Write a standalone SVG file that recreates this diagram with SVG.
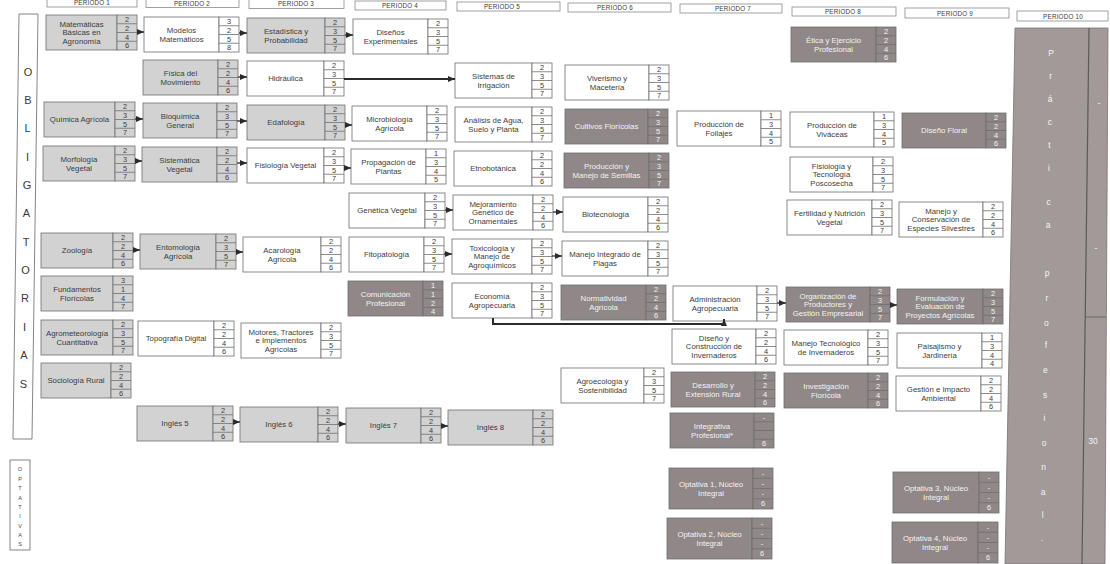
<svg xmlns="http://www.w3.org/2000/svg" width="1110" height="564" viewBox="0 0 1110 564">
<defs>
<style>
text{font-family:"Liberation Sans",Arial,sans-serif}
.lbl{font-size:7.8px;text-anchor:middle;fill:#3c3c3c}
.num{font-size:7.4px;text-anchor:middle;fill:#3c3c3c}
.node rect,.node path{stroke:#6e6e6e;stroke-width:0.8}
.w rect{fill:#ffffff}
.g rect{fill:#d2d2d2}
.d rect{fill:#908888}
.d text{fill:#f3f3f3}
.hdr rect{fill:#fff;stroke:#8a8a8a;stroke-width:0.8}
.hdr text{font-size:6.3px;text-anchor:middle;fill:#3a3a3a;letter-spacing:0.2px}
.side{fill:#fff;stroke:#777;stroke-width:0.9}
.sl{font-size:11px;text-anchor:middle;fill:#3a3a3a}
.ol{font-size:5.5px;text-anchor:middle;fill:#444}
.pl{font-size:8.5px;text-anchor:middle;fill:#f5f5f5}
#connectors path{fill:none;stroke:#2b2b2b;stroke-width:1.3;marker-end:url(#ah)}
</style>
<marker id="ah" markerUnits="userSpaceOnUse" markerWidth="7" markerHeight="6" refX="7" refY="3" orient="auto"><path d="M0,0L7,3L0,6z" fill="#2b2b2b"/></marker>
</defs>
<rect width="1110" height="564" fill="#fff"/>

<g id="headers" class="hdr">
<rect x="47" y="-2" width="90" height="9"/><text x="92" y="5.3">PERIODO 1</text>
<rect x="146" y="-2" width="93" height="9.5"/><text x="192" y="5.6">PERIODO 2</text>
<rect x="249" y="-1" width="95" height="9.5"/><text x="296" y="6.4">PERIODO 3</text>
<rect x="355" y="1" width="91" height="9"/><text x="400" y="7.8">PERIODO 4</text>
<rect x="457" y="2" width="103" height="9"/><text x="502" y="8.8">PERIODO 5</text>
<rect x="568" y="3" width="103" height="9"/><text x="615" y="9.8">PERIODO 6</text>
<rect x="680" y="4" width="102" height="9"/><text x="733" y="10.8">PERIODO 7</text>
<rect x="792" y="7" width="104" height="9"/><text x="843" y="13.8">PERIODO 8</text>
<rect x="905" y="8" width="104" height="10"/><text x="955" y="15.5">PERIODO 9</text>
<rect x="1017" y="11" width="91" height="10"/><text x="1063" y="18.5">PERIODO 10</text>
</g>

<g id="obligatorias">
<polygon class="side" points="19,14 38,14 32,439 13,439"/>
<text class="sl" x="28" y="76">O</text>
<text class="sl" x="28" y="104">B</text>
<text class="sl" x="27.5" y="132">L</text>
<text class="sl" x="27.5" y="161">I</text>
<text class="sl" x="27" y="189">G</text>
<text class="sl" x="26.5" y="217">A</text>
<text class="sl" x="26" y="246">T</text>
<text class="sl" x="25.5" y="274">O</text>
<text class="sl" x="25" y="302">R</text>
<text class="sl" x="24.5" y="331">I</text>
<text class="sl" x="24" y="359">A</text>
<text class="sl" x="23.5" y="388">S</text>
</g>

<g id="optativas">
<rect class="side" x="10" y="460" width="20" height="90"/>
<text class="ol" x="20" y="471">O</text>
<text class="ol" x="20" y="480.5">P</text>
<text class="ol" x="20" y="490">T</text>
<text class="ol" x="20" y="499.5">A</text>
<text class="ol" x="20" y="509">T</text>
<text class="ol" x="20" y="518">I</text>
<text class="ol" x="20" y="527.5">V</text>
<text class="ol" x="20" y="537">A</text>
<text class="ol" x="20" y="546">S</text>
</g>

<g id="mat" class="node g" transform="translate(46,15)"><rect width="71" height="35"/><rect x="71" width="20" height="35"/><path d="M71,8.75h20M71,17.5h20M71,26.25h20"/><text class="lbl"><tspan x="35.5" y="11.7">Matemáticas</tspan><tspan x="35.5" y="20.2">Básicas en</tspan><tspan x="35.5" y="28.7">Agronomía</tspan></text><text class="num"><tspan x="81" y="7">2</tspan><tspan x="81" y="15.7">2</tspan><tspan x="81" y="24.5">4</tspan><tspan x="81" y="33.2">6</tspan></text></g>
<g id="mod" class="node w" transform="translate(144,17)"><rect width="75" height="35"/><rect x="75" width="20" height="35"/><path d="M75,8.75h20M75,17.5h20M75,26.25h20"/><text class="lbl"><tspan x="37.5" y="16">Modelos</tspan><tspan x="37.5" y="24.5">Matemáticos</tspan></text><text class="num"><tspan x="85" y="7">3</tspan><tspan x="85" y="15.7">2</tspan><tspan x="85" y="24.5">5</tspan><tspan x="85" y="33.2">8</tspan></text></g>
<g id="est" class="node g" transform="translate(247,18)"><rect width="78" height="35"/><rect x="78" width="20" height="35"/><path d="M78,8.75h20M78,17.5h20M78,26.25h20"/><text class="lbl"><tspan x="39" y="16">Estadística y</tspan><tspan x="39" y="24.5">Probabilidad</tspan></text><text class="num"><tspan x="88" y="7">2</tspan><tspan x="88" y="15.7">3</tspan><tspan x="88" y="24.5">5</tspan><tspan x="88" y="33.2">7</tspan></text></g>
<g id="dis" class="node w" transform="translate(353,19)"><rect width="75" height="35"/><rect x="75" width="20" height="35"/><path d="M75,8.75h20M75,17.5h20M75,26.25h20"/><text class="lbl"><tspan x="37.5" y="16">Diseños</tspan><tspan x="37.5" y="24.5">Experimentales</tspan></text><text class="num"><tspan x="85" y="7">2</tspan><tspan x="85" y="15.7">3</tspan><tspan x="85" y="24.5">5</tspan><tspan x="85" y="33.2">7</tspan></text></g>
<g id="eti" class="node d" transform="translate(791,27)"><rect width="85" height="35"/><rect x="85" width="20" height="35"/><path d="M85,8.75h20M85,17.5h20M85,26.25h20"/><text class="lbl"><tspan x="42.5" y="16">Ética y Ejercicio</tspan><tspan x="42.5" y="24.5">Profesional</tspan></text><text class="num"><tspan x="95" y="7">2</tspan><tspan x="95" y="15.7">2</tspan><tspan x="95" y="24.5">4</tspan><tspan x="95" y="33.2">6</tspan></text></g>

<g id="fis" class="node g" transform="translate(143,60)"><rect width="75" height="35"/><rect x="75" width="20" height="35"/><path d="M75,8.75h20M75,17.5h20M75,26.25h20"/><text class="lbl"><tspan x="37.5" y="16">Física del</tspan><tspan x="37.5" y="24.5">Movimiento</tspan></text><text class="num"><tspan x="85" y="7">2</tspan><tspan x="85" y="15.7">2</tspan><tspan x="85" y="24.5">4</tspan><tspan x="85" y="33.2">6</tspan></text></g>
<g id="hid" class="node w" transform="translate(247,61)"><rect width="77" height="35"/><rect x="77" width="20" height="35"/><path d="M77,8.75h20M77,17.5h20M77,26.25h20"/><text class="lbl"><tspan x="38.5" y="20.2">Hidráulica</tspan></text><text class="num"><tspan x="87" y="7">2</tspan><tspan x="87" y="15.7">3</tspan><tspan x="87" y="24.5">5</tspan><tspan x="87" y="33.2">7</tspan></text></g>
<g id="sir" class="node w" transform="translate(455,63)"><rect width="77" height="35"/><rect x="77" width="20" height="35"/><path d="M77,8.75h20M77,17.5h20M77,26.25h20"/><text class="lbl"><tspan x="38.5" y="16">Sistemas de</tspan><tspan x="38.5" y="24.5">Irrigación</tspan></text><text class="num"><tspan x="87" y="7">2</tspan><tspan x="87" y="15.7">3</tspan><tspan x="87" y="24.5">5</tspan><tspan x="87" y="33.2">7</tspan></text></g>
<g id="viv" class="node w" transform="translate(565,65)"><rect width="84" height="35"/><rect x="84" width="20" height="35"/><path d="M84,8.75h20M84,17.5h20M84,26.25h20"/><text class="lbl"><tspan x="42" y="16">Viverismo y</tspan><tspan x="42" y="24.5">Macetería</tspan></text><text class="num"><tspan x="94" y="7">2</tspan><tspan x="94" y="15.7">3</tspan><tspan x="94" y="24.5">5</tspan><tspan x="94" y="33.2">7</tspan></text></g>

<g id="qui" class="node g" transform="translate(44,102)"><rect width="71" height="35"/><rect x="71" width="20" height="35"/><path d="M71,8.75h20M71,17.5h20M71,26.25h20"/><text class="lbl"><tspan x="35.5" y="20.2">Química Agrícola</tspan></text><text class="num"><tspan x="81" y="7">2</tspan><tspan x="81" y="15.7">3</tspan><tspan x="81" y="24.5">5</tspan><tspan x="81" y="33.2">7</tspan></text></g>
<g id="bio" class="node g" transform="translate(143,103)"><rect width="74" height="35"/><rect x="74" width="20" height="35"/><path d="M74,8.75h20M74,17.5h20M74,26.25h20"/><text class="lbl"><tspan x="37" y="16">Bioquímica</tspan><tspan x="37" y="24.5">General</tspan></text><text class="num"><tspan x="84" y="7">2</tspan><tspan x="84" y="15.7">3</tspan><tspan x="84" y="24.5">5</tspan><tspan x="84" y="33.2">7</tspan></text></g>
<g id="eda" class="node g" transform="translate(247,105)"><rect width="78" height="35"/><rect x="78" width="20" height="35"/><path d="M78,8.75h20M78,17.5h20M78,26.25h20"/><text class="lbl"><tspan x="39" y="20.2">Edafología</tspan></text><text class="num"><tspan x="88" y="7">2</tspan><tspan x="88" y="15.7">3</tspan><tspan x="88" y="24.5">5</tspan><tspan x="88" y="33.2">7</tspan></text></g>
<g id="mic" class="node w" transform="translate(352,106)"><rect width="75" height="35"/><rect x="75" width="20" height="35"/><path d="M75,8.75h20M75,17.5h20M75,26.25h20"/><text class="lbl"><tspan x="37.5" y="16">Microbiología</tspan><tspan x="37.5" y="24.5">Agrícola</tspan></text><text class="num"><tspan x="85" y="7">2</tspan><tspan x="85" y="15.7">3</tspan><tspan x="85" y="24.5">5</tspan><tspan x="85" y="33.2">7</tspan></text></g>
<g id="ana" class="node w" transform="translate(455,107)"><rect width="77" height="35"/><rect x="77" width="20" height="35"/><path d="M77,8.75h20M77,17.5h20M77,26.25h20"/><text class="lbl"><tspan x="38.5" y="16">Análisis de Agua,</tspan><tspan x="38.5" y="24.5">Suelo y Planta</tspan></text><text class="num"><tspan x="87" y="7">2</tspan><tspan x="87" y="15.7">3</tspan><tspan x="87" y="24.5">5</tspan><tspan x="87" y="33.2">7</tspan></text></g>
<g id="cul" class="node d" transform="translate(565,109)"><rect width="83" height="35"/><rect x="83" width="20" height="35"/><path d="M83,8.75h20M83,17.5h20M83,26.25h20"/><text class="lbl"><tspan x="41.5" y="20.2">Cultivos Florícolas</tspan></text><text class="num"><tspan x="93" y="7">2</tspan><tspan x="93" y="15.7">3</tspan><tspan x="93" y="24.5">5</tspan><tspan x="93" y="33.2">7</tspan></text></g>
<g id="fol" class="node w" transform="translate(677,111)"><rect width="84" height="35"/><rect x="84" width="20" height="35"/><path d="M84,8.75h20M84,17.5h20M84,26.25h20"/><text class="lbl"><tspan x="42" y="16">Producción de</tspan><tspan x="42" y="24.5">Follajes</tspan></text><text class="num"><tspan x="94" y="7">1</tspan><tspan x="94" y="15.7">3</tspan><tspan x="94" y="24.5">4</tspan><tspan x="94" y="33.2">5</tspan></text></g>
<g id="vvc" class="node w" transform="translate(790,112)"><rect width="84" height="35"/><rect x="84" width="20" height="35"/><path d="M84,8.75h20M84,17.5h20M84,26.25h20"/><text class="lbl"><tspan x="42" y="16">Producción de</tspan><tspan x="42" y="24.5">Viváceas</tspan></text><text class="num"><tspan x="94" y="7">1</tspan><tspan x="94" y="15.7">3</tspan><tspan x="94" y="24.5">4</tspan><tspan x="94" y="33.2">5</tspan></text></g>
<g id="dfl" class="node d" transform="translate(902,113)"><rect width="84" height="35"/><rect x="84" width="20" height="35"/><path d="M84,8.75h20M84,17.5h20M84,26.25h20"/><text class="lbl"><tspan x="42" y="20.2">Diseño Floral</tspan></text><text class="num"><tspan x="94" y="7">2</tspan><tspan x="94" y="15.7">2</tspan><tspan x="94" y="24.5">4</tspan><tspan x="94" y="33.2">6</tspan></text></g>

<g id="mor" class="node g" transform="translate(43,146)"><rect width="72" height="35"/><rect x="72" width="20" height="35"/><path d="M72,8.75h20M72,17.5h20M72,26.25h20"/><text class="lbl"><tspan x="36" y="16">Morfología</tspan><tspan x="36" y="24.5">Vegetal</tspan></text><text class="num"><tspan x="82" y="7">2</tspan><tspan x="82" y="15.7">3</tspan><tspan x="82" y="24.5">5</tspan><tspan x="82" y="33.2">7</tspan></text></g>
<g id="sis" class="node g" transform="translate(142,147)"><rect width="75" height="35"/><rect x="75" width="20" height="35"/><path d="M75,8.75h20M75,17.5h20M75,26.25h20"/><text class="lbl"><tspan x="37.5" y="16">Sistemática</tspan><tspan x="37.5" y="24.5">Vegetal</tspan></text><text class="num"><tspan x="85" y="7">2</tspan><tspan x="85" y="15.7">2</tspan><tspan x="85" y="24.5">4</tspan><tspan x="85" y="33.2">6</tspan></text></g>
<g id="fve" class="node w" transform="translate(247,148)"><rect width="77" height="35"/><rect x="77" width="20" height="35"/><path d="M77,8.75h20M77,17.5h20M77,26.25h20"/><text class="lbl"><tspan x="38.5" y="20.2">Fisiología Vegetal</tspan></text><text class="num"><tspan x="87" y="7">2</tspan><tspan x="87" y="15.7">3</tspan><tspan x="87" y="24.5">5</tspan><tspan x="87" y="33.2">7</tspan></text></g>
<g id="pro" class="node w" transform="translate(351,149)"><rect width="75" height="35"/><rect x="75" width="20" height="35"/><path d="M75,8.75h20M75,17.5h20M75,26.25h20"/><text class="lbl"><tspan x="37.5" y="16">Propagación de</tspan><tspan x="37.5" y="24.5">Plantas</tspan></text><text class="num"><tspan x="85" y="7">1</tspan><tspan x="85" y="15.7">3</tspan><tspan x="85" y="24.5">4</tspan><tspan x="85" y="33.2">5</tspan></text></g>
<g id="etn" class="node w" transform="translate(454,151)"><rect width="78" height="35"/><rect x="78" width="20" height="35"/><path d="M78,8.75h20M78,17.5h20M78,26.25h20"/><text class="lbl"><tspan x="39" y="20.2">Etnobotánica</tspan></text><text class="num"><tspan x="88" y="7">2</tspan><tspan x="88" y="15.7">2</tspan><tspan x="88" y="24.5">4</tspan><tspan x="88" y="33.2">6</tspan></text></g>
<g id="sem" class="node d" transform="translate(564,153)"><rect width="85" height="35"/><rect x="85" width="20" height="35"/><path d="M85,8.75h20M85,17.5h20M85,26.25h20"/><text class="lbl"><tspan x="42.5" y="16">Producción y</tspan><tspan x="42.5" y="24.5">Manejo de Semillas</tspan></text><text class="num"><tspan x="95" y="7">2</tspan><tspan x="95" y="15.7">3</tspan><tspan x="95" y="24.5">5</tspan><tspan x="95" y="33.2">7</tspan></text></g>
<g id="pos" class="node w" transform="translate(790,157)"><rect width="83" height="35"/><rect x="83" width="20" height="35"/><path d="M83,8.75h20M83,17.5h20M83,26.25h20"/><text class="lbl"><tspan x="41.5" y="11.7">Fisiología y</tspan><tspan x="41.5" y="20.2">Tecnología</tspan><tspan x="41.5" y="28.7">Poscosecha</tspan></text><text class="num"><tspan x="93" y="7">2</tspan><tspan x="93" y="15.7">3</tspan><tspan x="93" y="24.5">5</tspan><tspan x="93" y="33.2">7</tspan></text></g>

<g id="gen" class="node w" transform="translate(349,193)"><rect width="76" height="35"/><rect x="76" width="20" height="35"/><path d="M76,8.75h20M76,17.5h20M76,26.25h20"/><text class="lbl"><tspan x="38" y="20.2">Genética Vegetal</tspan></text><text class="num"><tspan x="86" y="7">2</tspan><tspan x="86" y="15.7">3</tspan><tspan x="86" y="24.5">5</tspan><tspan x="86" y="33.2">7</tspan></text></g>
<g id="mej" class="node w" transform="translate(453,195)"><rect width="80" height="35"/><rect x="80" width="20" height="35"/><path d="M80,8.75h20M80,17.5h20M80,26.25h20"/><text class="lbl"><tspan x="40" y="11.7">Mejoramiento</tspan><tspan x="40" y="20.2">Genético de</tspan><tspan x="40" y="28.7">Ornamentales</tspan></text><text class="num"><tspan x="90" y="7">2</tspan><tspan x="90" y="15.7">2</tspan><tspan x="90" y="24.5">4</tspan><tspan x="90" y="33.2">6</tspan></text></g>
<g id="btc" class="node w" transform="translate(563,197)"><rect width="85" height="35"/><rect x="85" width="20" height="35"/><path d="M85,8.75h20M85,17.5h20M85,26.25h20"/><text class="lbl"><tspan x="42.5" y="20.2">Biotecnología</tspan></text><text class="num"><tspan x="95" y="7">2</tspan><tspan x="95" y="15.7">2</tspan><tspan x="95" y="24.5">4</tspan><tspan x="95" y="33.2">6</tspan></text></g>
<g id="fer" class="node w" transform="translate(787,200)"><rect width="85" height="35"/><rect x="85" width="20" height="35"/><path d="M85,8.75h20M85,17.5h20M85,26.25h20"/><text class="lbl"><tspan x="42.5" y="16">Fertilidad y Nutrición</tspan><tspan x="42.5" y="24.5">Vegetal</tspan></text><text class="num"><tspan x="95" y="7">2</tspan><tspan x="95" y="15.7">3</tspan><tspan x="95" y="24.5">5</tspan><tspan x="95" y="33.2">7</tspan></text></g>
<g id="man" class="node w" transform="translate(899,202)"><rect width="84" height="35"/><rect x="84" width="20" height="35"/><path d="M84,8.75h20M84,17.5h20M84,26.25h20"/><text class="lbl"><tspan x="42" y="11.7">Manejo y</tspan><tspan x="42" y="20.2">Conservación de</tspan><tspan x="42" y="28.7">Especies Silvestres</tspan></text><text class="num"><tspan x="94" y="7">2</tspan><tspan x="94" y="15.7">2</tspan><tspan x="94" y="24.5">4</tspan><tspan x="94" y="33.2">6</tspan></text></g>

<g id="zoo" class="node g" transform="translate(41,233)"><rect width="72" height="35"/><rect x="72" width="20" height="35"/><path d="M72,8.75h20M72,17.5h20M72,26.25h20"/><text class="lbl"><tspan x="36" y="20.2">Zoología</tspan></text><text class="num"><tspan x="82" y="7">2</tspan><tspan x="82" y="15.7">2</tspan><tspan x="82" y="24.5">4</tspan><tspan x="82" y="33.2">6</tspan></text></g>
<g id="ent" class="node g" transform="translate(140,234)"><rect width="76" height="35"/><rect x="76" width="20" height="35"/><path d="M76,8.75h20M76,17.5h20M76,26.25h20"/><text class="lbl"><tspan x="38" y="16">Entomología</tspan><tspan x="38" y="24.5">Agrícola</tspan></text><text class="num"><tspan x="86" y="7">2</tspan><tspan x="86" y="15.7">3</tspan><tspan x="86" y="24.5">5</tspan><tspan x="86" y="33.2">7</tspan></text></g>
<g id="aca" class="node w" transform="translate(243,237)"><rect width="78" height="35"/><rect x="78" width="20" height="35"/><path d="M78,8.75h20M78,17.5h20M78,26.25h20"/><text class="lbl"><tspan x="39" y="16">Acarología</tspan><tspan x="39" y="24.5">Agrícola</tspan></text><text class="num"><tspan x="88" y="7">2</tspan><tspan x="88" y="15.7">2</tspan><tspan x="88" y="24.5">4</tspan><tspan x="88" y="33.2">6</tspan></text></g>
<g id="fit" class="node w" transform="translate(349,237)"><rect width="75" height="35"/><rect x="75" width="20" height="35"/><path d="M75,8.75h20M75,17.5h20M75,26.25h20"/><text class="lbl"><tspan x="37.5" y="20.2">Fitopatología</tspan></text><text class="num"><tspan x="85" y="7">2</tspan><tspan x="85" y="15.7">3</tspan><tspan x="85" y="24.5">5</tspan><tspan x="85" y="33.2">7</tspan></text></g>
<g id="tox" class="node w" transform="translate(452,239)"><rect width="80" height="35"/><rect x="80" width="20" height="35"/><path d="M80,8.75h20M80,17.5h20M80,26.25h20"/><text class="lbl"><tspan x="40" y="11.7">Toxicología y</tspan><tspan x="40" y="20.2">Manejo de</tspan><tspan x="40" y="28.7">Agroquímicos</tspan></text><text class="num"><tspan x="90" y="7">2</tspan><tspan x="90" y="15.7">3</tspan><tspan x="90" y="24.5">5</tspan><tspan x="90" y="33.2">7</tspan></text></g>
<g id="mip" class="node w" transform="translate(562,241)"><rect width="86" height="35"/><rect x="86" width="20" height="35"/><path d="M86,8.75h20M86,17.5h20M86,26.25h20"/><text class="lbl"><tspan x="43" y="16">Manejo Integrado de</tspan><tspan x="43" y="24.5">Plagas</tspan></text><text class="num"><tspan x="96" y="7">2</tspan><tspan x="96" y="15.7">3</tspan><tspan x="96" y="24.5">5</tspan><tspan x="96" y="33.2">7</tspan></text></g>

<g id="fun" class="node g" transform="translate(41,276)"><rect width="72" height="35"/><rect x="72" width="20" height="35"/><path d="M72,8.75h20M72,17.5h20M72,26.25h20"/><text class="lbl"><tspan x="36" y="16">Fundamentos</tspan><tspan x="36" y="24.5">Florícolas</tspan></text><text class="num"><tspan x="82" y="7">3</tspan><tspan x="82" y="15.7">1</tspan><tspan x="82" y="24.5">4</tspan><tspan x="82" y="33.2">7</tspan></text></g>
<g id="com" class="node d" transform="translate(348,281)"><rect width="75" height="35"/><rect x="75" width="20" height="35"/><path d="M75,8.75h20M75,17.5h20M75,26.25h20"/><text class="lbl"><tspan x="37.5" y="16">Comunicación</tspan><tspan x="37.5" y="24.5">Profesional</tspan></text><text class="num"><tspan x="85" y="7">1</tspan><tspan x="85" y="15.7">1</tspan><tspan x="85" y="24.5">2</tspan><tspan x="85" y="33.2">4</tspan></text></g>
<g id="eco" class="node w" transform="translate(452,283)"><rect width="80" height="35"/><rect x="80" width="20" height="35"/><path d="M80,8.75h20M80,17.5h20M80,26.25h20"/><text class="lbl"><tspan x="40" y="16">Economía</tspan><tspan x="40" y="24.5">Agropecuaria</tspan></text><text class="num"><tspan x="90" y="7">2</tspan><tspan x="90" y="15.7">3</tspan><tspan x="90" y="24.5">5</tspan><tspan x="90" y="33.2">7</tspan></text></g>
<g id="nor" class="node d" transform="translate(561,285)"><rect width="85" height="35"/><rect x="85" width="20" height="35"/><path d="M85,8.75h20M85,17.5h20M85,26.25h20"/><text class="lbl"><tspan x="42.5" y="16">Normatividad</tspan><tspan x="42.5" y="24.5">Agrícola</tspan></text><text class="num"><tspan x="95" y="7">2</tspan><tspan x="95" y="15.7">2</tspan><tspan x="95" y="24.5">4</tspan><tspan x="95" y="33.2">6</tspan></text></g>
<g id="adm" class="node w" transform="translate(673,286)"><rect width="84" height="35"/><rect x="84" width="20" height="35"/><path d="M84,8.75h20M84,17.5h20M84,26.25h20"/><text class="lbl"><tspan x="42" y="16">Administración</tspan><tspan x="42" y="24.5">Agropecuaria</tspan></text><text class="num"><tspan x="94" y="7">2</tspan><tspan x="94" y="15.7">3</tspan><tspan x="94" y="24.5">5</tspan><tspan x="94" y="33.2">7</tspan></text></g>
<g id="org" class="node d" transform="translate(786,287)"><rect width="84" height="35"/><rect x="84" width="20" height="35"/><path d="M84,8.75h20M84,17.5h20M84,26.25h20"/><text class="lbl"><tspan x="42" y="11.7">Organización de</tspan><tspan x="42" y="20.2">Productores y</tspan><tspan x="42" y="28.7">Gestión Empresarial</tspan></text><text class="num"><tspan x="94" y="7">2</tspan><tspan x="94" y="15.7">3</tspan><tspan x="94" y="24.5">5</tspan><tspan x="94" y="33.2">7</tspan></text></g>
<g id="frm" class="node d" transform="translate(897,289)"><rect width="86" height="35"/><rect x="86" width="20" height="35"/><path d="M86,8.75h20M86,17.5h20M86,26.25h20"/><text class="lbl"><tspan x="43" y="11.7">Formulación y</tspan><tspan x="43" y="20.2">Evaluación de</tspan><tspan x="43" y="28.7">Proyectos Agrícolas</tspan></text><text class="num"><tspan x="96" y="7">2</tspan><tspan x="96" y="15.7">3</tspan><tspan x="96" y="24.5">5</tspan><tspan x="96" y="33.2">7</tspan></text></g>

<g id="agm" class="node g" transform="translate(41,320)"><rect width="72" height="35"/><rect x="72" width="20" height="35"/><path d="M72,8.75h20M72,17.5h20M72,26.25h20"/><text class="lbl"><tspan x="36" y="16">Agrometeorología</tspan><tspan x="36" y="24.5">Cuantitativa</tspan></text><text class="num"><tspan x="82" y="7">2</tspan><tspan x="82" y="15.7">3</tspan><tspan x="82" y="24.5">5</tspan><tspan x="82" y="33.2">7</tspan></text></g>
<g id="top" class="node w" transform="translate(138,321)"><rect width="76" height="35"/><rect x="76" width="20" height="35"/><path d="M76,8.75h20M76,17.5h20M76,26.25h20"/><text class="lbl"><tspan x="38" y="20.2">Topografía Digital</tspan></text><text class="num"><tspan x="86" y="7">2</tspan><tspan x="86" y="15.7">2</tspan><tspan x="86" y="24.5">4</tspan><tspan x="86" y="33.2">6</tspan></text></g>
<g id="mot" class="node w" transform="translate(241,323)"><rect width="80" height="35"/><rect x="80" width="20" height="35"/><path d="M80,8.75h20M80,17.5h20M80,26.25h20"/><text class="lbl"><tspan x="40" y="11.7">Motores, Tractores</tspan><tspan x="40" y="20.2">e Implementos</tspan><tspan x="40" y="28.7">Agrícolas</tspan></text><text class="num"><tspan x="90" y="7">2</tspan><tspan x="90" y="15.7">3</tspan><tspan x="90" y="24.5">5</tspan><tspan x="90" y="33.2">7</tspan></text></g>
<g id="dci" class="node w" transform="translate(672,329)"><rect width="84" height="35"/><rect x="84" width="20" height="35"/><path d="M84,8.75h20M84,17.5h20M84,26.25h20"/><text class="lbl"><tspan x="42" y="11.7">Diseño y</tspan><tspan x="42" y="20.2">Construcción de</tspan><tspan x="42" y="28.7">Invernaderos</tspan></text><text class="num"><tspan x="94" y="7">2</tspan><tspan x="94" y="15.7">2</tspan><tspan x="94" y="24.5">4</tspan><tspan x="94" y="33.2">6</tspan></text></g>
<g id="mti" class="node w" transform="translate(784,330)"><rect width="84" height="35"/><rect x="84" width="20" height="35"/><path d="M84,8.75h20M84,17.5h20M84,26.25h20"/><text class="lbl"><tspan x="42" y="16">Manejo Tecnológico</tspan><tspan x="42" y="24.5">de Invernaderos</tspan></text><text class="num"><tspan x="94" y="7">2</tspan><tspan x="94" y="15.7">3</tspan><tspan x="94" y="24.5">5</tspan><tspan x="94" y="33.2">7</tspan></text></g>
<g id="pai" class="node w" transform="translate(897,333)"><rect width="85" height="35"/><rect x="85" width="20" height="35"/><path d="M85,8.75h20M85,17.5h20M85,26.25h20"/><text class="lbl"><tspan x="42.5" y="16">Paisajismo y</tspan><tspan x="42.5" y="24.5">Jardinería</tspan></text><text class="num"><tspan x="95" y="7">1</tspan><tspan x="95" y="15.7">3</tspan><tspan x="95" y="24.5">4</tspan><tspan x="95" y="33.2">4</tspan></text></g>

<g id="soc" class="node g" transform="translate(41,363)"><rect width="70" height="35"/><rect x="70" width="20" height="35"/><path d="M70,8.75h20M70,17.5h20M70,26.25h20"/><text class="lbl"><tspan x="35" y="20.2">Sociología Rural</tspan></text><text class="num"><tspan x="80" y="7">2</tspan><tspan x="80" y="15.7">2</tspan><tspan x="80" y="24.5">4</tspan><tspan x="80" y="33.2">6</tspan></text></g>
<g id="agr" class="node w" transform="translate(561,368)"><rect width="83" height="35"/><rect x="83" width="20" height="35"/><path d="M83,8.75h20M83,17.5h20M83,26.25h20"/><text class="lbl"><tspan x="41.5" y="16">Agroecología y</tspan><tspan x="41.5" y="24.5">Sostenibilidad</tspan></text><text class="num"><tspan x="93" y="7">2</tspan><tspan x="93" y="15.7">3</tspan><tspan x="93" y="24.5">5</tspan><tspan x="93" y="33.2">7</tspan></text></g>
<g id="der" class="node d" transform="translate(671,372)"><rect width="84" height="35"/><rect x="84" width="20" height="35"/><path d="M84,8.75h20M84,17.5h20M84,26.25h20"/><text class="lbl"><tspan x="42" y="16">Desarrollo y</tspan><tspan x="42" y="24.5">Extensión Rural</tspan></text><text class="num"><tspan x="94" y="7">2</tspan><tspan x="94" y="15.7">2</tspan><tspan x="94" y="24.5">4</tspan><tspan x="94" y="33.2">6</tspan></text></g>
<g id="inv" class="node d" transform="translate(784,373)"><rect width="84" height="35"/><rect x="84" width="20" height="35"/><path d="M84,8.75h20M84,17.5h20M84,26.25h20"/><text class="lbl"><tspan x="42" y="16">Investigación</tspan><tspan x="42" y="24.5">Florícola</tspan></text><text class="num"><tspan x="94" y="7">2</tspan><tspan x="94" y="15.7">2</tspan><tspan x="94" y="24.5">4</tspan><tspan x="94" y="33.2">6</tspan></text></g>
<g id="ges" class="node w" transform="translate(896,376)"><rect width="85" height="35"/><rect x="85" width="20" height="35"/><path d="M85,8.75h20M85,17.5h20M85,26.25h20"/><text class="lbl"><tspan x="42.5" y="16">Gestión e Impacto</tspan><tspan x="42.5" y="24.5">Ambiental</tspan></text><text class="num"><tspan x="95" y="7">2</tspan><tspan x="95" y="15.7">2</tspan><tspan x="95" y="24.5">4</tspan><tspan x="95" y="33.2">6</tspan></text></g>

<g id="ing5" class="node g" transform="translate(137,406)"><rect width="76" height="35"/><rect x="76" width="20" height="35"/><path d="M76,8.75h20M76,17.5h20M76,26.25h20"/><text class="lbl"><tspan x="38" y="20.2">Inglés 5</tspan></text><text class="num"><tspan x="86" y="7">2</tspan><tspan x="86" y="15.7">2</tspan><tspan x="86" y="24.5">4</tspan><tspan x="86" y="33.2">6</tspan></text></g>
<g id="ing6" class="node g" transform="translate(240,407)"><rect width="78" height="35"/><rect x="78" width="20" height="35"/><path d="M78,8.75h20M78,17.5h20M78,26.25h20"/><text class="lbl"><tspan x="39" y="20.2">Inglés 6</tspan></text><text class="num"><tspan x="88" y="7">2</tspan><tspan x="88" y="15.7">2</tspan><tspan x="88" y="24.5">4</tspan><tspan x="88" y="33.2">6</tspan></text></g>
<g id="ing7" class="node g" transform="translate(346,408)"><rect width="75" height="35"/><rect x="75" width="20" height="35"/><path d="M75,8.75h20M75,17.5h20M75,26.25h20"/><text class="lbl"><tspan x="37.5" y="20.2">Inglés 7</tspan></text><text class="num"><tspan x="85" y="7">2</tspan><tspan x="85" y="15.7">2</tspan><tspan x="85" y="24.5">4</tspan><tspan x="85" y="33.2">6</tspan></text></g>
<g id="ing8" class="node g" transform="translate(448,410)"><rect width="85" height="35"/><rect x="85" width="20" height="35"/><path d="M85,8.75h20M85,17.5h20M85,26.25h20"/><text class="lbl"><tspan x="42.5" y="20.2">Inglés 8</tspan></text><text class="num"><tspan x="95" y="7">2</tspan><tspan x="95" y="15.7">2</tspan><tspan x="95" y="24.5">4</tspan><tspan x="95" y="33.2">6</tspan></text></g>
<g id="int" class="node d" transform="translate(670,413)"><rect width="84" height="35"/><rect x="84" width="20" height="35"/><path d="M84,8.75h20M84,17.5h20M84,26.25h20"/><text class="lbl"><tspan x="42" y="16">Integrativa</tspan><tspan x="42" y="24.5">Profesional*</tspan></text><text class="num"><tspan x="94" y="7">-</tspan><tspan x="94" y="33.2">6</tspan></text></g>

<g id="op1" class="node d" transform="translate(669,468)"><rect width="84" height="41"/><rect x="84" width="20" height="41"/><path d="M84,10.25h20M84,20.5h20M84,30.75h20"/><text class="lbl"><tspan x="42" y="19">Optativa 1, Núcleo</tspan><tspan x="42" y="27.5">Integral</tspan></text><text class="num"><tspan x="94" y="7.7">-</tspan><tspan x="94" y="17.9">-</tspan><tspan x="94" y="28.2">-</tspan><tspan x="94" y="38.4">6</tspan></text></g>
<g id="op2" class="node d" transform="translate(667,518)"><rect width="85" height="41"/><rect x="85" width="20" height="41"/><path d="M85,10.25h20M85,20.5h20M85,30.75h20"/><text class="lbl"><tspan x="42.5" y="19">Optativa 2, Núcleo</tspan><tspan x="42.5" y="27.5">Integral</tspan></text><text class="num"><tspan x="95" y="7.7">-</tspan><tspan x="95" y="17.9">-</tspan><tspan x="95" y="28.2">-</tspan><tspan x="95" y="38.4">6</tspan></text></g>
<g id="op3" class="node d" transform="translate(893,472)"><rect width="86" height="41"/><rect x="86" width="20" height="41"/><path d="M86,10.25h20M86,20.5h20M86,30.75h20"/><text class="lbl"><tspan x="43" y="19">Optativa 3, Núcleo</tspan><tspan x="43" y="27.5">Integral</tspan></text><text class="num"><tspan x="96" y="7.7">-</tspan><tspan x="96" y="17.9">-</tspan><tspan x="96" y="28.2">-</tspan><tspan x="96" y="38.4">6</tspan></text></g>
<g id="op4" class="node d" transform="translate(892,522)"><rect width="86" height="41"/><rect x="86" width="20" height="41"/><path d="M86,10.25h20M86,20.5h20M86,30.75h20"/><text class="lbl"><tspan x="43" y="19">Optativa 4, Núcleo</tspan><tspan x="43" y="27.5">Integral</tspan></text><text class="num"><tspan x="96" y="7.7">-</tspan><tspan x="96" y="17.9">-</tspan><tspan x="96" y="28.2">-</tspan><tspan x="96" y="38.4">6</tspan></text></g>

<g id="practica">
<polygon points="1015,28 1108,28 1105,564 1005,564" fill="#a29999" stroke="#7a7373" stroke-width="0.8"/>
<line x1="1089" y1="28" x2="1082" y2="564" stroke="#5e5858" stroke-width="1.2"/>
<line x1="1086" y1="317" x2="1106" y2="317" stroke="#5e5858" stroke-width="0.8"/>
<text class="pl" x="1051" y="56">P</text>
<text class="pl" x="1050.6" y="79">r</text>
<text class="pl" x="1050.2" y="102">á</text>
<text class="pl" x="1049.8" y="125">c</text>
<text class="pl" x="1049.4" y="148">t</text>
<text class="pl" x="1049" y="171">i</text>
<text class="pl" x="1048.6" y="205">c</text>
<text class="pl" x="1048.2" y="228">a</text>
<text class="pl" x="1047.2" y="276">p</text>
<text class="pl" x="1046.8" y="301">r</text>
<text class="pl" x="1046.3" y="326">o</text>
<text class="pl" x="1045.9" y="348">f</text>
<text class="pl" x="1045.4" y="373">e</text>
<text class="pl" x="1045" y="398">s</text>
<text class="pl" x="1044.5" y="421">i</text>
<text class="pl" x="1044" y="446">o</text>
<text class="pl" x="1043.6" y="470">n</text>
<text class="pl" x="1043.1" y="495">a</text>
<text class="pl" x="1042.7" y="518">l</text>
<text class="pl" x="1042.2" y="541">.</text>
<text class="pl" x="1099" y="106">-</text>
<text class="pl" x="1096" y="251">-</text>
<text class="pl" x="1093" y="444">30</text>
</g>

<g id="connectors">
<path d="M137,32H144"/>
<path d="M239,33H247"/>
<path d="M345,35H353"/>
<path d="M238,77H247"/>
<path d="M344,79H455" style="stroke-width:2"/>
<path d="M135,119H143"/>
<path d="M237,121H247"/>
<path d="M345,125H352"/>
<path d="M135,161H142"/>
<path d="M237,163H247"/>
<path d="M344,168H351"/>
<path d="M445,210H453"/>
<path d="M553,212H563"/>
<path d="M133,250H140"/>
<path d="M236,252H243"/>
<path d="M444,254H452"/>
<path d="M552,256H562"/>
<path d="M493,318V324H724V319" style="stroke-width:2"/>
<path d="M777,303H786"/>
<path d="M890,305H897"/>
<path d="M233,422H240"/>
<path d="M338,424H346"/>
<path d="M441,426H448"/>
</g>
</svg>
